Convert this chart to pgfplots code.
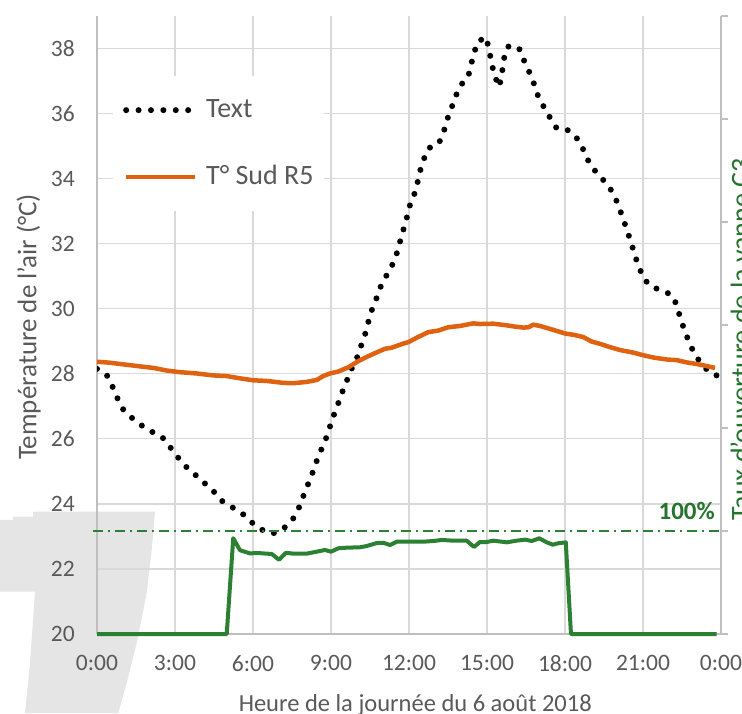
\documentclass[border=0pt]{standalone}
\usepackage{fontspec}
\setmainfont{Carlito}
\usepackage{pgfplots}
\pgfplotsset{compat=1.18}
\definecolor{orng}{RGB}{222,98,16}
\definecolor{grn}{RGB}{44,128,50}
\definecolor{grnlab}{RGB}{38,115,46}
\definecolor{gridc}{RGB}{217,217,217}
\definecolor{axc}{RGB}{191,191,191}
\definecolor{txt}{RGB}{89,89,89}
\newcommand{\tickfont}{\fontsize{23.5pt}{28pt}\selectfont}
\newcommand{\xlabfont}{\fontsize{24.5pt}{29pt}\selectfont}
\newcommand{\ylabfont}{\fontsize{27pt}{31pt}\selectfont}
\newcommand{\rlabfont}{\fontsize{28pt}{33pt}\selectfont}
\newcommand{\legfont}{\fontsize{28pt}{33pt}\selectfont}
\newcommand{\pctfont}{\fontsize{25pt}{30pt}\selectfont}
\begin{document}
\begin{tikzpicture}[x=1pt,y=1pt]
\fill[gray!20] (0,193) -- (13,193) -- (13,196.3) -- (33,196.3) -- (33,201.3) -- (155,201.3) -- (151.7,163) -- (146.7,120) -- (136.7,70) -- (126.7,30) -- (118.3,0) -- (25,0) -- (30,50) -- (33.3,96.3) -- (35,121.3) -- (0,121.3) -- cycle;
\begin{axis}[
  at={(97pt,79pt)}, anchor=south west,
  scale only axis, width=624pt, height=618pt,
  xmin=0, xmax=24, ymin=20, ymax=39,
  axis x line*=bottom, axis y line*=left,
  axis line style={axc, line width=1.5pt, -},
  xtick={0,3,...,24},
  xticklabels={0:00,3:00,6:00,9:00,12:00,15:00,18:00,21:00,0:00},
  ytick={20,22,...,38},
  major tick length=0pt,
  grid=major, major grid style={gridc, line width=1.3pt},
  tick label style={font=\tickfont, text=txt},
  xticklabel style={anchor=north, inner sep=0pt, yshift=-21pt},
  yticklabel style={anchor=east, inner sep=0pt, xshift=-22pt},
  /pgf/number format/assume math mode=true,
  xlabel={Heure de la journée du 6 août 2018},
  ylabel={Température de l'air (°C)},
  every axis x label/.style={at={(axis description cs:0.51,-0.1246)}, anchor=base, font=\xlabfont, text=txt, inner sep=0pt},
  every axis y label/.style={at={(axis description cs:-0.097,0.497)}, rotate=90, anchor=base, font=\ylabfont, text=txt, inner sep=0pt},
  legend style={at={(axis description cs:0.0256,0.903)}, anchor=north west, draw=none, fill=white, inner xsep=10pt, inner ysep=21pt, row sep=41pt, column sep=8pt, font=\legfont, nodes={inner sep=0pt, text height=20pt, text depth=6pt, text=txt}},
  legend cell align=left,
  legend image code/.code={\draw[#1] (0pt,0pt) -- (69pt,0pt);},
]
\addplot[black, line width=6pt, line cap=round, dash pattern=on 0pt off 12.4pt] coordinates {
(0.00,28.15) (0.37,27.97) (0.59,27.62) (0.78,27.26) (0.99,26.92) (1.32,26.66) (1.68,26.43) (2.08,26.23) (2.50,26.06) (2.80,25.76) (3.09,25.45) (3.40,25.16) (3.76,24.91) (4.12,24.65) (4.47,24.40) (4.77,24.11) (5.17,23.91) (5.58,23.71) (5.92,23.45) (6.30,23.22) (6.74,23.08) (7.17,23.24) (7.51,23.50) (7.74,23.83) (7.91,24.19) (8.09,24.55) (8.26,24.89) (8.42,25.26) (8.60,25.62) (8.79,25.97) (8.94,26.33) (9.09,26.69) (9.26,27.05) (9.42,27.41) (9.60,27.77) (9.77,28.12) (9.99,28.47) (10.14,28.82) (10.30,29.18) (10.42,29.55) (10.55,29.92) (10.72,30.25) (10.88,30.63) (11.09,30.96) (11.33,31.30) (11.51,31.65) (11.64,32.02) (11.77,32.39) (11.90,32.75) (12.01,33.13) (12.19,33.48) (12.32,33.85) (12.42,34.22) (12.57,34.60) (12.74,34.93) (13.14,35.07) (13.33,35.42) (13.45,35.78) (13.62,36.14) (13.78,36.50) (13.97,36.86) (14.27,37.11) (14.38,37.48) (14.50,37.85) (14.64,38.21) (14.97,38.35) (15.08,37.94) (15.18,37.57) (15.27,37.20) (15.47,36.82) (15.56,37.18) (15.63,37.54) (15.70,37.92) (15.86,38.10) (16.27,37.97) (16.43,37.62) (16.63,37.27) (16.81,36.91) (16.96,36.55) (17.18,36.21) (17.42,35.88) (17.67,35.56) (18.04,35.53) (18.41,35.30) (18.65,34.99) (18.83,34.64) (19.08,34.31) (19.38,34.04) (19.69,33.76) (19.92,33.44) (20.10,33.07) (20.26,32.71) (20.41,32.35) (20.56,31.99) (20.69,31.63) (20.85,31.27) (21.04,30.91) (21.35,30.66) (21.78,30.56) (22.15,30.39) (22.33,30.03) (22.45,29.66) (22.62,29.30) (22.78,28.95) (22.99,28.60) (23.26,28.29) (23.59,28.02) (23.83,27.95)
};
\addlegendentry{Text}
\addplot[orng, line width=4.5pt, line join=round] coordinates {
(0,28.37) (0.5,28.34) (1.01,28.29) (1.53,28.24) (2.17,28.18) (2.68,28.10) (3.19,28.05) (3.83,28.01) (4.47,27.95) (4.99,27.93) (5.5,27.86) (6.01,27.80) (6.53,27.78) (7.17,27.72) (7.55,27.71) (8.06,27.75) (8.45,27.81) (8.7,27.93) (8.96,28.01) (9.28,28.07) (9.67,28.20) (10.05,28.39) (10.43,28.54) (10.82,28.68) (11.08,28.77) (11.33,28.80) (11.78,28.93) (11.97,28.97) (12.3,29.11) (12.74,29.28) (13.13,29.33) (13.51,29.43) (13.96,29.47) (14.47,29.55) (14.73,29.53) (15.24,29.54) (15.76,29.49) (16.08,29.45) (16.4,29.42) (16.59,29.43) (16.78,29.51) (17.04,29.47) (17.55,29.35) (18.0,29.24) (18.38,29.19) (18.7,29.13) (19.03,28.99) (19.35,28.92) (19.73,28.82) (20.12,28.73) (20.63,28.65) (21.01,28.57) (21.4,28.50) (21.91,28.44) (22.3,28.42) (22.68,28.35) (23.07,28.30) (23.32,28.26) (23.77,28.18)
};
\addlegendentry{T° Sud R5}
\end{axis}
\begin{axis}[
  at={(97pt,79pt)}, anchor=south west,
  scale only axis, width=624pt, height=618pt,
  xmin=0, xmax=24, ymin=0, ymax=600,
  clip=false,
  axis x line=none, axis y line*=right,
  axis line style={axc, line width=1.5pt, -},
  ytick={0,100,...,600}, yticklabels={},
  major tick length=7pt, tick align=outside,
  major tick style={axc, line width=1.5pt},
  ylabel={Taux d'ouverture de la vanne C3},
  every axis y label/.style={at={(axis description cs:1.0465,0.4765)}, rotate=90, anchor=base, font=\rlabfont, text=grnlab, inner sep=0pt},
]
\addplot[grn, line width=1.5pt, dash pattern=on 10pt off 5pt on 2pt off 5pt] coordinates {(-0.15,100) (24,100)};
\addplot[grn, line width=4pt, line join=round] coordinates {
(0,0) (4.99,0) (5.24,93) (5.5,81.3) (5.88,78.3) (6.2,78.6) (6.53,78) (6.72,77.7) (7.0,72.1) (7.27,78.9) (7.55,78) (8.06,78) (8.45,79.9) (8.77,81.6) (9.0,79.9) (9.28,83.2) (9.6,83.8) (10.12,84.2) (10.37,85.4) (10.76,88.3) (11.01,88.6) (11.27,86.4) (11.53,89.6) (12.04,89.6) (12.55,89.6) (12.94,90.3) (13.26,91.3) (13.7,90.6) (14.22,90.6) (14.5,84.5) (14.73,89.3) (14.99,89.3) (15.24,90.6) (15.76,89) (16.14,90.6) (16.46,91.6) (16.72,90.3) (17.01,92.9) (17.3,89) (17.53,86.7) (17.74,88.1) (18.03,89) (18.23,0) (23.83,0)
};
\node[anchor=base east, inner sep=0pt, font=\bfseries\pctfont, text=grnlab, yshift=12pt] at (axis cs:23.77,100) {100\%};
\end{axis}
\pgfresetboundingbox
\path[use as bounding box] (0,0) rectangle (742,713);
\end{tikzpicture}
\end{document}
